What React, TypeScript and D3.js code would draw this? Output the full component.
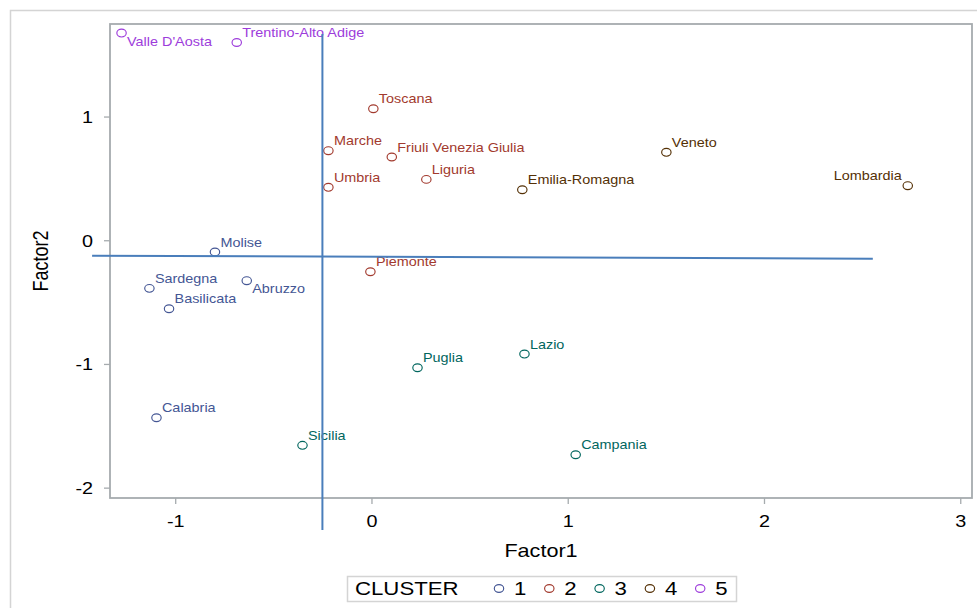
import React from "react";
import * as d3 from "d3";

// Factor scores of the Italian regions, grouped by cluster
const regions = [
  "Valle D'Aosta", "Trentino-Alto Adige",
  "Toscana", "Marche", "Friuli Venezia Giulia", "Umbria", "Liguria", "Piemonte",
  "Emilia-Romagna", "Veneto", "Lombardia",
  "Molise", "Sardegna", "Abruzzo", "Basilicata", "Calabria",
  "Puglia", "Lazio", "Campania", "Sicilia",
];
const factor1 = [
  -1.276, -0.689,
  0.007, -0.222, 0.101, -0.222, 0.277, -0.008,
  0.766, 1.5, 2.73,
  -0.8, -1.134, -0.638, -1.034, -1.098,
  0.232, 0.777, 1.038, -0.354,
];
const factor2 = [
  1.679, 1.603,
  1.067, 0.728, 0.677, 0.432, 0.496, -0.251,
  0.412, 0.715, 0.445,
  -0.091, -0.385, -0.323, -0.55, -1.431,
  -1.027, -0.916, -1.73, -1.654,
];
const cluster = [
  5, 5,
  2, 2, 2, 2, 2, 2,
  4, 4, 4,
  1, 1, 1, 1, 1,
  3, 3, 3, 3,
];

const clusterIds = [1, 2, 3, 4, 5];
const xTicks = [-1, 0, 1, 2, 3];
const yTicks = [-2, -1, 0, 1];

// Reference axes drawn through the cloud (endpoints in factor units)
const refVertical = [[-0.2525, 1.671], [-0.2525, -2.339]];
const refHorizontal = [[-1.426, -0.121], [2.552, -0.1455]];

const clusterColors = ["#445694", "#A23A2E", "#01665E", "#543005", "#9D3CDB"];

// Label placement around markers
const labelPlace: Record<string, string> = {
  "Valle D'Aosta": "se",
  "Abruzzo": "se",
  "Lombardia": "nw",
};

const W = 977;
const H = 608;
const plot = { left: 110, top: 24, right: 972, bottom: 498 };
const SX = 1.2; // horizontal text stretch
const FONT = "'Liberation Sans', Arial, sans-serif";

const x = d3.scaleLinear().domain([-1.3348, 3.0573]).range([plot.left, plot.right]);
const y = d3.scaleLinear().domain([1.7522, -2.0797]).range([plot.top, plot.bottom]);
const color = d3.scaleOrdinal<number, string>().domain(clusterIds).range(clusterColors);
const line = d3.line<number[]>().x((d) => x(d[0])).y((d) => y(d[1]));

function T(props: {
  x: number; y: number; size: number; fill?: string; anchor?: string; rotate?: number; children: React.ReactNode;
}) {
  const { rotate } = props;
  return (
    <text
      transform={`translate(${props.x},${props.y}) scale(${SX},1)${rotate ? ` rotate(${rotate})` : ""}`}
      fontFamily={FONT}
      fontSize={props.size}
      fill={props.fill ?? "#000"}
      textAnchor={props.anchor ?? "start"}
    >
      {props.children}
    </text>
  );
}

function Marker({ cx, cy, stroke }: { cx: number; cy: number; stroke: string }) {
  return <ellipse cx={cx} cy={cy} rx={4.7} ry={3.9} fill="none" stroke={stroke} strokeWidth={1.15} />;
}

export default function App() {
  const points = regions.map((name, i) => ({
    name,
    px: x(factor1[i]),
    py: y(factor2[i]),
    c: color(cluster[i]),
  }));

  return (
    <svg width={W} height={H} style={{ position: "absolute", left: 0, top: 0, background: "#fff" }}>
      {/* outer frame */}
      <rect x={10.5} y={10.5} width={990} height={620} fill="none" stroke="#d4d4d4" strokeWidth={1.5} />

      {/* plot frame */}
      <rect
        x={plot.left}
        y={plot.top}
        width={plot.right - plot.left}
        height={plot.bottom - plot.top}
        fill="#fff"
        stroke="#a6abae"
        strokeWidth={1.8}
      />

      {/* y axis */}
      {yTicks.map((t) => (
        <g key={`y${t}`}>
          <line x1={plot.left - 6} x2={plot.left} y1={y(t)} y2={y(t)} stroke="#a6abae" strokeWidth={1.3} />
          <T x={93} y={y(t) + 6} size={16.5} anchor="end">{t}</T>
        </g>
      ))}
      <T x={48} y={261} size={18} anchor="middle" rotate={-90}>Factor2</T>

      {/* x axis */}
      {xTicks.map((t) => (
        <g key={`x${t}`}>
          <line x1={x(t)} x2={x(t)} y1={plot.bottom} y2={plot.bottom + 6} stroke="#a6abae" strokeWidth={1.3} />
          <T x={x(t)} y={527} size={16.5} anchor="middle">{t}</T>
        </g>
      ))}
      <T x={(plot.left + plot.right) / 2} y={557} size={18} anchor="middle">Factor1</T>

      {/* markers and labels */}
      {points.map((p) => {
        const place = labelPlace[p.name] ?? "ne";
        let lx = p.px + 5.5;
        let ly = p.py - 5.5;
        let anchor = "start";
        if (place === "se") ly = p.py + 12.5;
        if (place === "nw") {
          lx = p.px - 6;
          anchor = "end";
        }
        return (
          <g key={p.name}>
            <Marker cx={p.px} cy={p.py} stroke={p.c} />
            <T x={lx} y={ly} size={12} fill={p.c} anchor={anchor}>{p.name}</T>
          </g>
        );
      })}

      {/* reference lines */}
      <path d={line(refVertical) ?? ""} stroke="#4a7ebb" strokeWidth={2} fill="none" />
      <path d={line(refHorizontal) ?? ""} stroke="#4a7ebb" strokeWidth={2} fill="none" />

      {/* legend */}
      <rect x={347.5} y={576.5} width={389} height={25} fill="#fff" stroke="#d4d4d4" strokeWidth={1.5} />
      <T x={355} y={595} size={18.5}>CLUSTER</T>
      {clusterIds.map((c, i) => (
        <g key={`lg${c}`}>
          <Marker cx={499 + i * 50.3} cy={588.5} stroke={color(c)} />
          <T x={514 + i * 50.3} y={595} size={18.5}>{c}</T>
        </g>
      ))}
    </svg>
  );
}
